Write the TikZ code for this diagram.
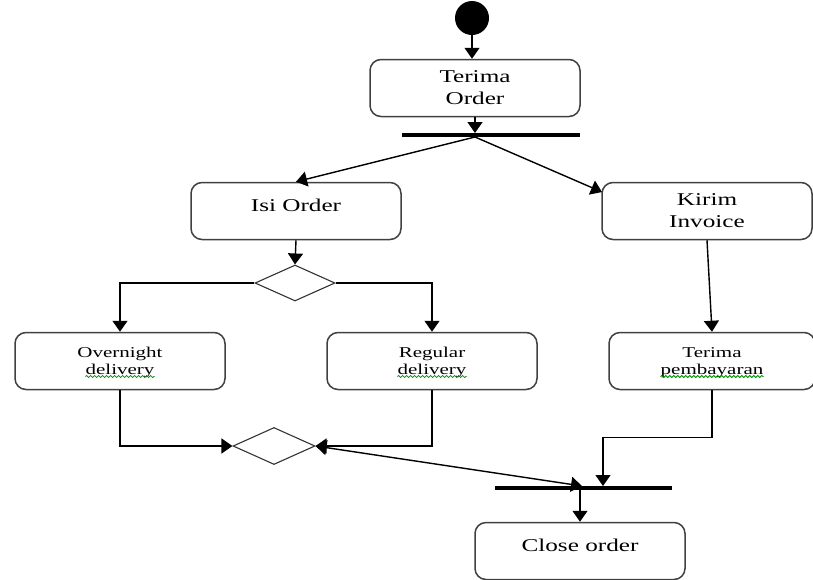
\documentclass[tikz,border=0pt]{standalone}
\usepackage{fontspec}
\setmainfont{Liberation Serif}[FakeStretch=1.4]
\usetikzlibrary{arrows.meta,shapes.geometric,decorations.pathmorphing}

\tikzset{
  act/.style={draw=black!75, line width=1.5pt, rounded corners=11pt,
    minimum width=210pt, minimum height=57pt, inner sep=0pt},
  lbl/.style={font=\fontsize{18}{22}\selectfont, align=center, inner sep=0pt},
  slbl/.style={font=\fontsize{15}{17}\selectfont, inner sep=0pt, anchor=base},
  squig/.style={draw=green!55!black, line width=0.8pt,
    decorate, decoration={snake, amplitude=1pt, segment length=4pt}},
  bar/.style={line width=4pt},
  choice/.style={draw=black!80, line width=1.1pt, diamond, aspect=2.2,
    minimum width=80pt, minimum height=36pt, inner sep=0pt},
  flow/.style={line width=1.4pt, -{Triangle[length=11pt,width=15pt]}},
  both/.style={line width=1.4pt, {Triangle[length=11pt,width=15pt]}-{Triangle[length=11pt,width=15pt]}},
}

\begin{document}
\begin{tikzpicture}[x=1pt,y=-1pt]
\useasboundingbox (0,0) rectangle (813,579);

% start
\node[circle, fill=black, minimum size=34pt, inner sep=0pt] (start) at (472,18) {};

% activities
\node[act] (terima) at (475,88) {};
\node[lbl] (terimaT) at (475,88) {Terima\\Order};
\node[act] (isi) at (296,211) {};
\node[lbl] (isiT) at (296,205) {Isi Order};
\node[act] (kirim) at (707,211) {};
\node[lbl] (kirimT) at (707,211) {Kirim\\Invoice};
\node[act] (over) at (120,361) {};
\node[slbl] (overA) at (120,357) {Overnight};
\node[slbl] (overB) at (120,374) {delivery};
\node[act] (reg) at (432,361) {};
\node[slbl] (regA) at (432,357) {Regular};
\node[slbl] (regB) at (432,374) {delivery};
\node[act, minimum width=206pt] (bayar) at (712,361) {};
\node[slbl] (bayarA) at (712,357) {Terima};
\node[slbl] (bayarB) at (712,374) {pembayaran};
\node[act] (close) at (580,551) {};
\node[lbl] (closeT) at (580,545) {Close order};

% wavy marks under the misspelt words
\draw[squig] ([yshift=-2.5pt]overB.base west) -- ([yshift=-2.5pt]overB.base east);
\draw[squig] ([yshift=-2.5pt]regB.base west) -- ([yshift=-2.5pt]regB.base east);
\draw[squig] ([yshift=-2.5pt]bayarB.base west) -- ([yshift=-2.5pt]bayarB.base east);

% fork and join bars
\coordinate (f1) at (402,135);
\coordinate (f2) at (580,135);
\draw[bar] (f1) -- (f2);
\coordinate (j1) at (495,488);
\coordinate (j2) at (672,488);
\draw[bar] (j1) -- (j2);

% decision and merge
\node[choice] (dec) at (295,283) {};
\node[choice, minimum width=82pt, minimum height=37pt] (mrg) at (274,446) {};

% connection points on the bars
\coordinate (forkIn) at (475,133);
\coordinate (forkOut) at (475,137);
\coordinate (joinL) at (582,486);
\coordinate (joinR) at (603,486);
\coordinate (joinOut) at (580,490);
\coordinate (kirimIn) at (602,192);

% flows
\draw[flow] (start) -- (start |- terima.north);
\draw[flow] (terima.south -| forkIn) -- (forkIn);
\draw[flow] (forkOut) -- (isi.north);
\draw[flow] (forkOut) -- (kirimIn);
\draw[flow] (isi.south) -- (dec.north);
\draw[flow] (dec.west) -| (over.north);
\draw[flow] (dec.east) -| (reg.north);
\draw[flow] (kirim.south) -- (bayar.north);
\draw[flow] (over.south) |- (mrg.west);
\draw[flow] (reg.south) |- (mrg.east);
\draw[both] (mrg.east) -- (joinL);
\draw[flow] (bayar.south) -- ++(0,47) -| (joinR);
\draw[flow] (joinOut) -- (close.north);
\end{tikzpicture}
\end{document}
